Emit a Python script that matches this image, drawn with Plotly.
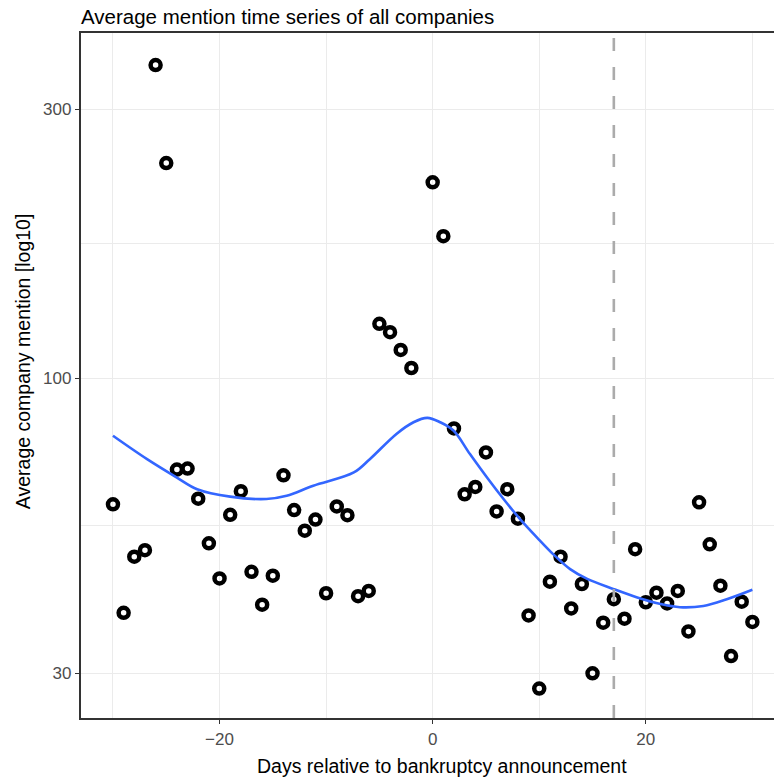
import plotly.graph_objects as go

# ---- data ----
days = [-30, -29, -28, -27, -26, -25, -24, -23, -22, -21, -20, -19, -18, -17, -16,
        -15, -14, -13, -12, -11, -10, -9, -8, -7, -6, -5, -4, -3, -2,
        0, 1, 2, 3, 4, 5, 6, 7, 8, 9, 10, 11, 12, 13, 14, 15, 16, 17, 18, 19,
        20, 21, 22, 23, 24, 25, 26, 27, 28, 29, 30]
mentions = [59.8, 38.4, 48.3, 49.6, 359, 240.7, 68.9, 69.2, 61.2, 51.0, 44.2, 57.3, 63.1, 45.4, 39.7,
            44.7, 67.3, 58.4, 53.7, 56.2, 41.6, 59.3, 57.2, 41.1, 42.0, 124.9, 120.7, 112.3, 104.3,
            222.5, 178.6, 81.5, 62.3, 64.2, 73.9, 58.1, 63.6, 56.4, 38.0, 28.2, 43.6, 48.3, 39.1, 43.2,
            30.0, 36.9, 40.6, 37.5, 49.8, 40.1, 41.7, 39.9, 42.0, 35.6, 60.3, 50.8, 42.9, 32.2, 40.2, 37.0]

smooth_x = [-30, -26.8, -24, -22.1, -19, -15.6, -13.7, -11.2, -7.4, -5.9, -3.4, -1.8, -0.5,
            0.7, 1.95, 3.5, 5.1, 6.65, 8.2, 9.8, 11.3, 12.9, 14.5, 17, 19.2, 21.4, 23.2,
            25.4, 27.6, 30]
smooth_y = [79.1, 71.9, 66.7, 63.6, 61.7, 61.1, 61.9, 64.5, 68.1, 71.9, 79.7, 83.6, 85.1,
            83.6, 80.8, 73.4, 66.7, 61.1, 56.3, 52.2, 48.8, 45.9, 44.1, 42.3, 40.9, 39.8, 39.3,
            39.5, 40.6, 42.2]

event_day = 17

x_ticks = [-20, 0, 20]
x_tick_labels = ["\u221220", "0", "20"]
x_minor = [-30, -10, 10, 30]
y_ticks = [30, 100, 300]
y_tick_labels = ["30", "100", "300"]
y_minor = [54.77, 173.2]

FONT = "Liberation Sans, Arial, sans-serif"

fig = go.Figure()
fig.add_trace(go.Scatter(
    x=days, y=mentions, mode="markers",
    marker=dict(symbol="circle-open", size=10, color="black",
                line=dict(width=4.5, color="black")),
    hoverinfo="skip", showlegend=False))
fig.add_trace(go.Scatter(
    x=smooth_x, y=smooth_y, mode="lines",
    line=dict(color="#3366FF", width=2.6, shape="spline", smoothing=1.0),
    hoverinfo="skip", showlegend=False))

fig.add_shape(type="line", xref="x", yref="paper", x0=event_day, x1=event_day,
              y0=0, y1=1, layer="above",
              line=dict(color="#ABABAB", width=2.6, dash="13px,16px"))

fig.update_layout(
    width=774, height=779,
    margin=dict(l=81, r=0, t=33, b=61),
    paper_bgcolor="white", plot_bgcolor="white",
    font=dict(family=FONT, color="black"),
    showlegend=False,
    title=dict(text="Average mention time series of all companies",
               font=dict(size=20.5, color="black", family=FONT),
               xref="paper", x=0, xanchor="left",
               yref="container", y=1 - 17 / 779, yanchor="middle"),
    annotations=[
        dict(text="Days relative to bankruptcy announcement", xref="paper", yref="paper",
             x=0.5205, y=-(766 - 718) / 685, xanchor="center", yanchor="middle",
             showarrow=False, font=dict(size=19.5, color="black", family=FONT)),
        dict(text="Average company mention [log10]", xref="paper", yref="paper",
             x=(22.5 - 81) / 693, y=(718 - 361.7) / 685, xanchor="center", yanchor="middle",
             textangle=-90, showarrow=False, font=dict(size=19.5, color="black", family=FONT)),
    ],
)

fig.update_xaxes(
    range=[-33.0, 32.03], showline=True, linecolor="#333333", linewidth=1.5, mirror=True,
    tickmode="array", tickvals=x_ticks, ticktext=x_tick_labels,
    ticks="outside", ticklen=4.5, tickwidth=1.3, tickcolor="#333333",
    tickfont=dict(size=17, color="#4D4D4D", family=FONT),
    showgrid=True, gridcolor="#EBEBEB", gridwidth=1.2, zeroline=False,
    minor=dict(tickmode="array", tickvals=x_minor, showgrid=True, gridcolor="#EBEBEB",
               gridwidth=1.2, ticks=""),
)
fig.update_yaxes(
    type="log", range=[1.398, 2.612], showline=True, linecolor="#333333", linewidth=1.5,
    mirror=False,
    tickmode="array", tickvals=y_ticks, ticktext=y_tick_labels,
    ticks="outside", ticklen=4.5, tickwidth=1.3, tickcolor="#333333",
    tickfont=dict(size=17, color="#4D4D4D", family=FONT),
    showgrid=True, gridcolor="#EBEBEB", gridwidth=1.2, zeroline=False,
    minor=dict(tickmode="array", tickvals=y_minor, showgrid=True, gridcolor="#EBEBEB",
               gridwidth=1.2, ticks=""),
)

fig.write_html("out.html")
